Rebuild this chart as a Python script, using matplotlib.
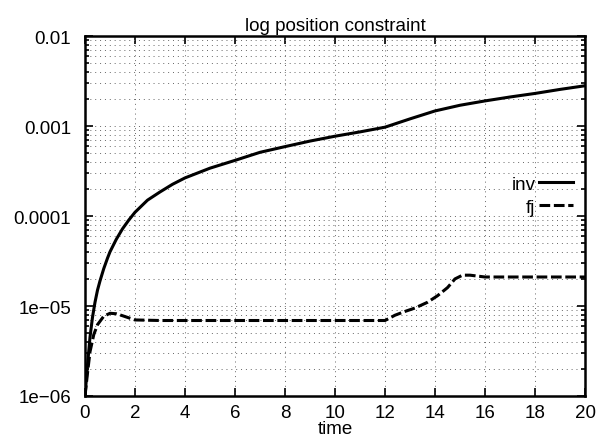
import matplotlib
matplotlib.use('Agg')
import matplotlib.pyplot as plt
from matplotlib.ticker import FixedLocator, FixedFormatter, LogLocator, NullFormatter

plt.rcParams['font.family'] = ['Liberation Sans', 'DejaVu Sans']

# values
t_inv = [0, 0.1, 0.2, 0.3, 0.4, 0.5, 0.6, 0.75, 0.9, 1, 1.25, 1.5, 1.75, 2,
         2.5, 3, 3.5, 4, 5, 6, 7, 8, 9, 10, 11, 12, 13, 14, 15, 16, 17, 18,
         19, 20]
inv = [1e-6, 2.2e-6, 4.5e-6, 7.5e-6, 1.1e-5, 1.5e-5, 1.9e-5, 2.6e-5, 3.4e-5,
       4.0e-5, 5.5e-5, 7.2e-5, 9.0e-5, 1.1e-4, 1.5e-4, 1.85e-4, 2.25e-4,
       2.65e-4, 3.4e-4, 4.15e-4, 5.1e-4, 5.9e-4, 6.8e-4, 7.7e-4, 8.6e-4,
       9.7e-4, 1.2e-3, 1.47e-3, 1.7e-3, 1.9e-3, 2.1e-3, 2.3e-3, 2.55e-3, 2.8e-3]

t_fj = [0, 0.1, 0.2, 0.35, 0.5, 0.75, 1, 1.25, 1.5, 2, 3, 4, 5, 6, 7, 8, 9,
        10, 11, 12, 12.4, 12.8, 13.2, 13.7, 14.1, 14.5, 14.8, 15.1, 15.4,
        16, 17, 18, 19, 20]
fj = [1e-6, 1.8e-6, 3.1e-6, 4.8e-6, 6.2e-6, 7.7e-6, 8.3e-6, 8.2e-6, 7.8e-6,
      7.0e-6, 6.9e-6, 6.9e-6, 6.9e-6, 6.9e-6, 6.9e-6, 6.9e-6, 6.9e-6,
      6.9e-6, 6.9e-6, 6.9e-6, 7.9e-6, 8.7e-6, 9.5e-6, 1.1e-5, 1.3e-5,
      1.6e-5, 2.0e-5, 2.2e-5, 2.2e-5, 2.1e-5, 2.1e-5, 2.1e-5, 2.1e-5, 2.1e-5]

x_ticks = list(range(0, 21, 2))
y_ticks = [1e-6, 1e-5, 1e-4, 1e-3, 1e-2]
y_labels = ['1e\u221206', '1e\u221205', '0.0001', '0.001', '0.01']

fig = plt.figure(figsize=(6.02, 4.39), dpi=100)
ax = fig.add_axes([85 / 602, 1 - 397 / 439, 500 / 602, 360 / 439])

ax.plot(t_inv, inv, color='black', lw=2.2, label='inv')
ax.plot(t_fj, fj, color='black', lw=2.2, dashes=(3.5, 1.2), label='fj')

ax.set_yscale('log')
ax.set_xlim(0, 20)
ax.set_ylim(1e-6, 1e-2)

ax.xaxis.set_major_locator(FixedLocator(x_ticks))
ax.yaxis.set_major_locator(FixedLocator(y_ticks))
ax.yaxis.set_major_formatter(FixedFormatter(y_labels))
ax.yaxis.set_minor_locator(LogLocator(base=10, subs=range(2, 10)))
ax.yaxis.set_minor_formatter(NullFormatter())

ax.tick_params(which='both', direction='in', top=True, right=True,
               labelsize=13.5, width=1.2)
ax.tick_params(which='major', length=6)
ax.tick_params(which='minor', length=3)
ax.tick_params(axis='y', which='major', pad=10)
ax.tick_params(axis='x', which='major', pad=6)

# dotted grid like the old gnuplot output
ax.grid(True, which='both', axis='y', color='0.4', lw=0.7, linestyle=(0, (1, 4)))
ax.grid(True, which='major', axis='x', color='0.4', lw=0.7, linestyle=(0, (1, 4)))

for s in ax.spines.values():
    s.set_linewidth(1.8)

ax.set_xlabel('time', fontsize=13.5, labelpad=-1)
ax.set_title('log position constraint', fontsize=13.5, pad=4)

ax.legend(loc='upper right', bbox_to_anchor=(0.976, 0.612), frameon=False,
          markerfirst=False, fontsize=13.5, handlelength=1.8,
          handletextpad=0.2, labelspacing=0.3, borderpad=0, borderaxespad=0)

fig.savefig('out.png', dpi=100)
